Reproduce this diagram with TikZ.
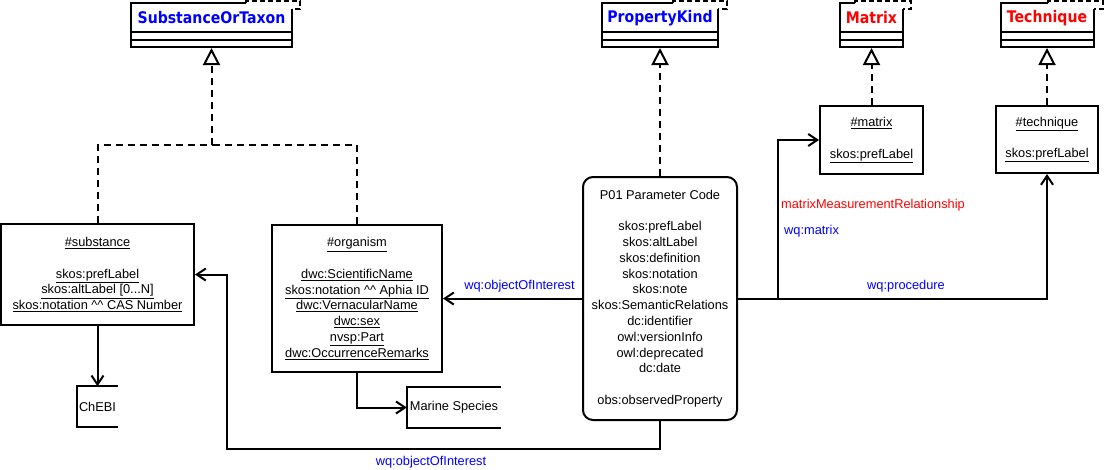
\documentclass[tikz,border=0pt]{standalone}
\usepackage{fontspec}
\setmainfont{Liberation Sans}
\newfontfamily\titlefam{DejaVu Sans}[FakeStretch=0.88]
\usetikzlibrary{arrows.meta}
\newcommand\bodysize{\fontsize{12.8}{15.8}\selectfont}
\newcommand\UL[1]{\underline{#1}}
\newcommand\cc{\textasciicircum\textasciicircum}
\begin{document}
\begin{tikzpicture}[x=1pt,y=-1pt,
  every node/.style={font=\bodysize},
  inst/.style={draw, line width=2pt, inner sep=0pt, align=center},
  cls/.style={draw, line width=2pt, fill=white, inner sep=0pt, minimum height=44pt},
  tabfill/.style={fill=white},
  tabline/.style={line width=1.6pt, dash pattern=on 5pt off 3pt},
  cname/.style={font=\titlefam\bfseries\fontsize{16}{18}\selectfont, inner sep=0pt},
  store/.style={inner sep=0pt, align=center},
  storeline/.style={line width=2pt},
  assoc/.style={line width=2pt, -{Straight Barb[length=9pt,width=12pt]}},
  plain/.style={line width=2pt},
  real/.style={line width=2pt, dash pattern=on 7pt off 5pt},
  realtip/.style={real, -{Triangle[length=17pt,width=17pt,fill=white]}},
  lblue/.style={text=blue, inner sep=0pt},
  lred/.style={text=red, inner sep=0pt},
]
\useasboundingbox (0,0) rectangle (1107,469);
\fill[white] (0,0) rectangle (1107,469);

% ---------- classes ----------
\node[cls, minimum width=161pt] (sot) at (211.5,25) {};
\draw[plain] (131,32) -- (292,32) (131,39.5) -- (292,39.5);
\fill[tabfill] (246,0) rectangle (301,9);
\draw[tabline] (246,3) -- (246,1) -- (300,1) -- (300,9) -- (292,9);
\node[cname, text=blue] (sotn) at (211.5,18) {SubstanceOrTaxon};

\node[cls, minimum width=116pt] (pk) at (660,25) {};
\draw[plain] (602,32) -- (718,32) (602,39.5) -- (718,39.5);
\fill[tabfill] (673,0) rectangle (728,9);
\draw[tabline] (673,3) -- (673,1) -- (727,1) -- (727,9) -- (718,9);
\node[cname, text=blue] (pkn) at (660,18) {PropertyKind};

\node[cls, minimum width=63pt] (mc) at (871.5,25) {};
\draw[plain] (840,32) -- (903,32) (840,39.5) -- (903,39.5);
\fill[tabfill] (855,0) rectangle (912,9);
\draw[tabline] (855,3) -- (855,1) -- (911,1) -- (911,9) -- (903,9);
\node[cname, text=red] (mcn) at (871.5,18) {Matrix};

\node[cls, minimum width=93pt] (tc) at (1047,25) {};
\draw[plain] (1000.5,32) -- (1093.5,32) (1000.5,39.5) -- (1093.5,39.5);
\fill[tabfill] (1048,0) rectangle (1104,9);
\draw[tabline] (1048,3) -- (1048,1) -- (1103,1) -- (1103,9) -- (1093.5,9);
\node[cname, text=red] (tcn) at (1047,18) {Technique};

% ---------- instance boxes ----------
\node[inst, minimum width=193pt, minimum height=101pt] (sub) at (97.5,274.5)
  {\UL{\#substance}\\[15.8pt]\UL{skos:prefLabel}\\\UL{skos:altLabel [0...N]}\\\UL{skos:notation \cc{} CAS Number}};

\node[inst, minimum width=170pt, minimum height=147pt] (org) at (357,298.5)
  {\UL{\#organism}\\[15.8pt]\UL{dwc:ScientificName}\\\UL{skos:notation \cc{} Aphia ID}\\\UL{dwc:VernacularName}\\\UL{dwc:sex}\\\UL{nvsp:Part}\\\UL{dwc:OccurrenceRemarks}};

\node[inst, rounded corners=10pt, minimum width=154pt, minimum height=243pt] (p01) at (660,298.5)
  {P01 Parameter Code\\[15.8pt]skos:prefLabel\\skos:altLabel\\skos:definition\\skos:notation\\skos:note\\skos:SemanticRelations\\dc:identifier\\owl:versionInfo\\owl:deprecated\\dc:date\\[15.8pt]obs:observedProperty};

\node[inst, minimum width=103pt, minimum height=68pt] (mat) at (871.5,140)
  {\UL{\#matrix}\\[15.8pt]\UL{skos:prefLabel}};

\node[inst, minimum width=102pt, minimum height=67pt] (tec) at (1047,139.5)
  {\UL{\#technique}\\[15.8pt]\UL{skos:prefLabel}};

% ---------- external stores ----------
\node[store, minimum width=41pt, minimum height=40pt] (chebi) at (97.5,406.5) {ChEBI};
\draw[storeline] (chebi.north east) -- (chebi.north west) -- (chebi.south west) -- (chebi.south east);
\node[store, minimum width=94pt, minimum height=41pt] (marine) at (454,407.5) {Marine Species};
\draw[storeline] (marine.north east) -- (marine.north west) -- (marine.south west) -- (marine.south east);

% ---------- realizations ----------
\coordinate (sj) at (211.5,145);
\draw[real] (org.north) |- (sj);
\draw[realtip] (sub.north) |- (sj) -- (sot.south);
\draw[realtip] (p01.north) -- (pk.south);
\draw[realtip] (mat.north) -- (mc.south);
\draw[realtip] (tec.north) -- (tc.south);

% ---------- associations ----------
\draw[assoc] (sub.south) -- (chebi.north);
\draw[assoc] (org.south) |- (marine.west);
\draw[assoc] (p01.west) -- (org.east);
\coordinate (bl) at (226.6,449);
\draw[assoc] (p01.south) |- (bl) |- (sub.east);
\coordinate (mj) at (778,140);
\draw[assoc] (p01.east) -| (mj) -- (mat.west);
\draw[assoc] (p01.east) -| (tec.south);

% ---------- labels ----------
\node[lblue] (l1) at (519.5,286) {wq:objectOfInterest};
\node[lblue] (l2) at (431,462) {wq:objectOfInterest};
\node[lred, anchor=west] (l3) at (781,205) {matrixMeasurementRelationship};
\node[lblue, anchor=west] (l4) at (784,231) {wq:matrix};
\node[lblue] (l5) at (906,286) {wq:procedure};
\end{tikzpicture}
\end{document}
